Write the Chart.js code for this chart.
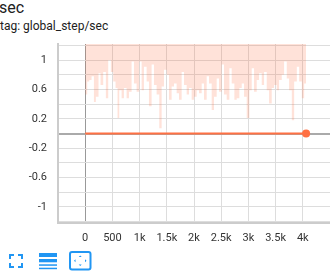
<!DOCTYPE html>
<html>
<head>
<meta charset="utf-8">
<script src="https://cdn.jsdelivr.net/npm/chart.js@4"></script>
<style>
    body { margin: 0; background: #fff; font-family: Roboto, sans-serif; width: 330px; height: 277px; overflow: hidden; position: relative; }
    #title { position: absolute; left: -1px; top: -2px; font-size: 16px; color: #212121; }
    #tag { position: absolute; left: 0; top: 19px; font-size: 12px; color: #212121; }
    #wrap { position: absolute; left: 0; top: 40px; width: 330px; height: 210px; }
    .icon { position: absolute; }
</style>
</head>
<body>
<div id="title">sec</div>
<div id="tag">tag: global_step/sec</div>
<div id="wrap"><canvas id="chart"></canvas></div>

<svg class="icon" style="left:9px;top:254px" width="14" height="14" viewBox="0 0 14 14">
    <path d="M1 5V1H5 M9 1H13V5 M13 9V13H9 M5 13H1V9" fill="none" stroke="#2196f3" stroke-width="2"/>
</svg>
<svg class="icon" style="left:39px;top:253px" width="18" height="17" viewBox="0 0 18 17">
    <rect x="0" y="0" width="18" height="4" fill="#2196f3"/>
    <rect x="0" y="6" width="18" height="3.3" fill="#2196f3"/>
    <rect x="0" y="11.3" width="18" height="1.5" fill="#2196f3"/>
    <rect x="0" y="14.7" width="18" height="1.5" fill="#2196f3"/>
</svg>
<svg class="icon" style="left:69px;top:251px" width="23" height="20" viewBox="0 0 23 20">
    <rect x="1" y="1" width="20.5" height="17.5" rx="2" fill="none" stroke="#2196f3" stroke-width="2"/>
    <path d="M11.2 4.5L9.7 6H12.7Z M11.2 15L9.7 13.5H12.7Z M5 9.7L6.5 8.2V11.2Z M17.5 9.7L16 8.2V11.2Z" fill="#2196f3"/>
</svg>

<script>
// raw global_step/sec samples (step, value)
const rawSteps = [0, 37, 74, 117, 160, 196, 245, 282, 331, 380, 423, 472, 515, 558, 595, 626, 669, 712, 761, 804,
    853, 896, 945, 994, 1037, 1080, 1129, 1172, 1221, 1264, 1313, 1362, 1405, 1448, 1497, 1540, 1589, 1632, 1681, 1724,
    1773, 1816, 1865, 1908, 1957, 2000, 2049, 2092, 2141, 2184, 2233, 2276, 2325, 2368, 2417, 2460, 2509, 2552, 2601, 2650,
    2693, 2742, 2785, 2834, 2877, 2920, 2969, 3018, 3061, 3104, 3153, 3196, 3245, 3288, 3337, 3380, 3429, 3472, 3521, 3564,
    3613, 3656, 3705, 3748, 3798, 3841, 3890, 3933, 3982, 4025, 4061];
const rawValues = [0.53, 0.71, 0.73, 0.78, 0.43, 0.50, 0.82, 0.66, 0.84, 0.48, 1.00, 0.84, 0.71, 0.62, 0.21, 0.59, 0.48, 0.62, 0.48, 0.57,
    0.98, 0.68, 0.57, 0.98, 0.59, 0.91, 0.71, 0.37, 0.94, 0.66, 0.53, 0.07, 0.64, 0.87, 0.80, 0.46, 0.64, 0.68, 0.55, 0.46,
    0.84, 0.66, 0.53, 0.62, 0.46, 0.50, 0.59, 0.55, 0.68, 0.46, 0.78, 0.68, 0.32, 0.50, 0.75, 0.57, 0.94, 0.53, 0.46, 0.89,
    0.68, 0.46, 0.48, 0.62, 0.68, 0.50, 0.21, 0.59, 0.89, 0.57, 0.73, 0.82, 0.66, 0.84, 0.59, 0.41, 0.62, 0.66, 0.59, 0.73,
    0.80, 0.98, 0.75, 0.59, 0.18, 0.71, 0.91, 0.71, 0.48, 0.68, 0.68];

// smoothed line
const smoothSteps = [0, 4061];
const smoothValues = [0, 0];

// axis ticks
const xTicks = [-500, 0, 500, 1000, 1500, 2000, 2500, 3000, 3500, 4000, 4500];
const xLabels = ["", "0", "500", "1k", "1.5k", "2k", "2.5k", "3k", "3.5k", "4k", ""];
const yTicks = [-1.2, -1, -0.8, -0.6, -0.4, -0.2, 0, 0.2, 0.4, 0.6, 0.8, 1, 1.2];
const yLabels = ["", "-1", "", "-0.6", "", "-0.2", "", "0.2", "", "0.6", "", "1", ""];

const isZero = v => Math.abs(v) < 1e-6;

const ctx = document.getElementById("chart").getContext("2d");

new Chart(ctx, {
    type: "line",
    data: {
        datasets: [
            {
                data: rawSteps.map((s, i) => ({ x: s, y: rawValues[i] })),
                stepped: true,
                fill: "end",
                backgroundColor: "rgba(255,112,67,0.2)",
                borderColor: "transparent",
                pointRadius: 0
            },
            {
                data: smoothSteps.map((s, i) => ({ x: s, y: smoothValues[i] })),
                borderColor: "#ff7043",
                backgroundColor: "#ff7043",
                borderWidth: 2,
                pointRadius: [0, 4],
                pointBorderWidth: 0,
                fill: false,
                clip: false
            }
        ]
    },
    options: {
        responsive: true,
        maintainAspectRatio: false,
        animation: false,
        layout: { autoPadding: false, padding: { top: 4, right: 0, left: 0, bottom: 0 } },
        plugins: { legend: { display: false }, tooltip: { enabled: false } },
        scales: {
            x: {
                type: "linear",
                min: -500,
                max: 4500,
                afterFit: scale => {
                    scale.height = 27;
                    scale.paddingLeft = 0; scale.paddingRight = 0;
                    scale.paddingTop = 0; scale.paddingBottom = 0;
                },
                afterBuildTicks: scale => { scale.ticks = xTicks.map(v => ({ value: v })); },
                ticks: {
                    autoSkip: false,
                    maxRotation: 0,
                    padding: 9,
                    color: "#333",
                    font: { family: "Roboto", size: 11 },
                    callback: (v) => xLabels[xTicks.indexOf(v)]
                },
                grid: {
                    drawTicks: false,
                    color: c => c.tick && c.tick.value === 0 ? "#999" : "#ddd",
                    lineWidth: 1
                },
                border: { color: "#ccc", width: 2 }
            },
            y: {
                type: "linear",
                min: -1.22,
                max: 1.22,
                afterFit: scale => {
                    scale.width = 58;
                    scale.paddingLeft = 0; scale.paddingRight = 0;
                    scale.paddingTop = 0; scale.paddingBottom = 0;
                },
                afterBuildTicks: scale => { scale.ticks = yTicks.map(v => ({ value: v })); },
                ticks: {
                    autoSkip: false,
                    padding: 11,
                    color: "#333",
                    font: { family: "Roboto", size: 11 },
                    callback: (v) => yLabels[yTicks.findIndex(t => isZero(t - v))]
                },
                grid: {
                    drawTicks: false,
                    color: c => c.tick && isZero(c.tick.value) ? "#aaa" : "#ddd",
                    lineWidth: c => c.tick && isZero(c.tick.value) ? 2 : 1
                },
                border: { color: "#ccc", width: 2 }
            }
        }
    }
});
</script>
</body>
</html>
